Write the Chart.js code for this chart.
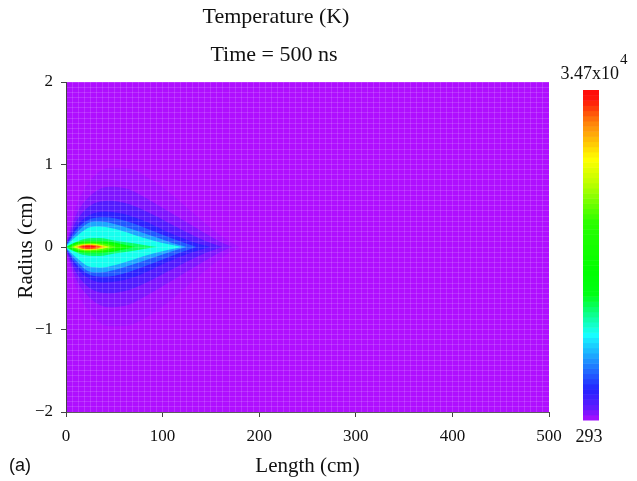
<!DOCTYPE html>
<html>
<head>
<meta charset="utf-8">
<script src="https://cdn.jsdelivr.net/npm/chart.js@4.4.1/dist/chart.umd.min.js"></script>
<style>
  html, body { margin: 0; padding: 0; background: #fff; }
  canvas { display: block; }
</style>
</head>
<body>
<canvas id="tempChart" width="637" height="481"></canvas>
<script>
// colour scale limits (K)
const tMin = 293;
const tMax = 34700;

// isotherms of the plume: temperature, and half-width (cm) along the length (cm).
// first entry is the ambient gas filling the whole tube
const isoTemps = [293, 550, 1100, 2000, 3200, 5000, 7000, 9500, 12000, 15000, 18500, 22000, 26000, 29500, 32000, 34000];
const isoLength = [
  [0, 500],
  [0, 10, 25, 45, 65, 85, 105, 125, 145, 165, 180],
  [0, 10, 25, 45, 65, 85, 105, 125, 145, 160, 172],
  [0, 10, 25, 45, 65, 85, 105, 125, 145, 162],
  [0, 10, 25, 40, 60, 80, 100, 120, 140, 150],
  [0, 10, 25, 40, 60, 80, 100, 120, 135],
  [0, 10, 25, 35, 50, 70, 90, 110, 125],
  [0, 10, 25, 35, 50, 70, 90, 105, 120],
  [0, 8, 20, 35, 50, 70, 85, 95],
  [1, 8, 20, 35, 50, 62, 72],
  [3, 10, 20, 35, 50, 62],
  [5, 12, 25, 40, 52],
  [7, 15, 25, 37, 46],
  [10, 17, 25, 34, 41],
  [12, 18, 26, 33, 37],
  [15, 21, 27, 32]
];
const isoHalfWidth = [
  [2, 2],
  [0.05, 0.48, 0.8, 0.96, 0.95, 0.84, 0.68, 0.48, 0.28, 0.1, 0],
  [0.04, 0.38, 0.62, 0.73, 0.7, 0.58, 0.44, 0.3, 0.16, 0.06, 0],
  [0.03, 0.3, 0.5, 0.56, 0.52, 0.42, 0.3, 0.18, 0.07, 0],
  [0.025, 0.24, 0.39, 0.43, 0.4, 0.32, 0.21, 0.11, 0.03, 0],
  [0.02, 0.2, 0.34, 0.36, 0.32, 0.24, 0.15, 0.06, 0],
  [0.015, 0.16, 0.3, 0.31, 0.28, 0.21, 0.13, 0.05, 0],
  [0.01, 0.12, 0.24, 0.25, 0.22, 0.15, 0.08, 0.035, 0],
  [0.005, 0.05, 0.1, 0.11, 0.08, 0.045, 0.015, 0],
  [0, 0.045, 0.075, 0.075, 0.055, 0.025, 0],
  [0, 0.04, 0.06, 0.058, 0.035, 0],
  [0, 0.035, 0.05, 0.038, 0],
  [0, 0.03, 0.04, 0.025, 0],
  [0, 0.025, 0.031, 0.017, 0],
  [0, 0.021, 0.024, 0.014, 0],
  [0, 0.014, 0.015, 0]
];

// axis ticks
const lengthTicks = [0, 100, 200, 300, 400, 500];
const radiusTicks = [-2, -1, 0, 1, 2];

const titleText = 'Temperature (K)';
const subtitleText = 'Time = 500 ns';
const SERIF = '"Liberation Serif", "DejaVu Serif", serif';

// rainbow colormap, purple (cold) -> red (hot): [scaled temperature, hue, lightness]
const colorStops = [[0, 280, 53], [0.04, 258, 55], [0.1, 238, 57], [0.25, 184, 55], [0.38, 125, 50],
  [0.6, 110, 50], [0.72, 75, 50], [0.8, 58, 50], [0.9, 30, 52], [0.97, 3, 52], [1, 0, 52]];
function tempColor(t) {
  const f = Math.min(1, Math.max(0, (t - tMin) / (tMax - tMin)));
  for (let i = 1; i < colorStops.length; i++) {
    const a = colorStops[i - 1], b = colorStops[i];
    if (f <= b[0]) {
      const u = (f - a[0]) / (b[0] - a[0]);
      const h = a[1] + (b[1] - a[1]) * u;
      const l = a[2] + (b[2] - a[2]) * u;
      return 'hsl(' + h.toFixed(1) + ', 100%, ' + l.toFixed(1) + '%)';
    }
  }
  return 'hsl(0, 100%, 52%)';
}

// each isotherm is an upper edge and a lower edge, the lower one filled up to the upper
const datasets = [];
isoTemps.forEach((t, k) => {
  const xs = isoLength[k];
  const rs = isoHalfWidth[k];
  const base = {
    borderWidth: 0,
    borderColor: 'transparent',
    pointRadius: 0,
    pointHoverRadius: 0,
    tension: 0.4,
    cubicInterpolationMode: 'monotone',
    order: -k
  };
  datasets.push(Object.assign({}, base, {
    label: t + ' K',
    data: xs.map((x, i) => ({ x: x, y: rs[i] })),
    fill: false
  }));
  datasets.push(Object.assign({}, base, {
    label: t + ' K',
    data: xs.map((x, i) => ({ x: x, y: -rs[i] })),
    fill: '-1',
    backgroundColor: tempColor(t)
  }));
});

function isTick(v, list) {
  return list.some(m => Math.abs(v - m) < 1e-6);
}

const meshColor = 'rgba(255,255,255,0.14)';

// titles, colour bar and panel letter
const decorations = {
  id: 'decorations',
  afterDraw(chart) {
    const ctx = chart.ctx;
    ctx.save();
    ctx.fillStyle = '#111';
    ctx.textAlign = 'center';
    ctx.textBaseline = 'middle';
    ctx.font = '22px ' + SERIF;
    ctx.fillText(titleText, 276, 17);
    ctx.fillText(subtitleText, 274, 55);

    // colour bar
    const bx = 583, bw = 16, top = 90, bottom = 420;
    const bands = 64;
    const h = (bottom - top) / bands;
    for (let i = 0; i < bands; i++) {
      const t = tMin + (i + 0.5) / bands * (tMax - tMin);
      ctx.fillStyle = tempColor(t);
      ctx.fillRect(bx, bottom - (i + 1) * h, bw, h + 0.5);
    }

    ctx.fillStyle = '#111';
    ctx.font = '18px ' + SERIF;
    const exp = Math.floor(Math.log10(tMax));
    const mant = (tMax / Math.pow(10, exp)).toFixed(2);
    ctx.textAlign = 'right';
    ctx.fillText(mant + 'x10', 619, 74);
    ctx.textAlign = 'left';
    ctx.font = '15px ' + SERIF;
    ctx.fillText(String(exp), 620, 60);
    ctx.textAlign = 'center';
    ctx.font = '18px ' + SERIF;
    ctx.fillText(String(tMin), 589, 437);

    ctx.textAlign = 'left';
    ctx.font = '18px "Liberation Sans", Arial, sans-serif';
    ctx.fillText('(a)', 9, 466);
    ctx.restore();
  }
};

new Chart(document.getElementById('tempChart'), {
  type: 'line',
  data: { datasets: datasets },
  plugins: [decorations],
  options: {
    responsive: false,
    animation: false,
    events: [],
    layout: { padding: { top: 82, right: 88, left: 0, bottom: 0 } },
    plugins: {
      legend: { display: false },
      tooltip: { enabled: false },
      filler: { propagate: false }
    },
    scales: {
      x: {
        type: 'linear',
        min: 0,
        max: 500,
        afterFit(scale) { scale.height = 69; },
        ticks: {
          stepSize: 6.25,
          autoSkip: false,
          maxRotation: 0,
          padding: 9,
          color: '#111',
          font: { family: SERIF, size: 17 },
          callback: v => isTick(v, lengthTicks) ? String(Math.round(v)) : ''
        },
        grid: {
          z: 1,
          color: meshColor,
          tickLength: 5,
          tickColor: c => (c.tick && isTick(c.tick.value, lengthTicks)) ? '#444' : 'transparent'
        },
        border: { display: true, color: '#444', width: 1, z: 1 },
        title: {
          display: true,
          text: 'Length (cm)',
          color: '#111',
          font: { family: SERIF, size: 21 },
          padding: { top: 0, bottom: 2 }
        }
      },
      y: {
        type: 'linear',
        min: -2,
        max: 2,
        afterFit(scale) { scale.width = 66; },
        ticks: {
          stepSize: 0.0625,
          autoSkip: false,
          padding: 8,
          color: '#111',
          font: { family: SERIF, size: 17 },
          callback: v => isTick(v, radiusTicks) ? String(Math.round(v)).replace('-', '\u2212') : ''
        },
        grid: {
          z: 1,
          color: meshColor,
          tickLength: 5,
          tickColor: c => (c.tick && isTick(c.tick.value, radiusTicks)) ? '#444' : 'transparent'
        },
        border: { display: true, color: '#444', width: 1, z: 1 },
        title: {
          display: true,
          text: 'Radius (cm)',
          color: '#111',
          font: { family: SERIF, size: 21 },
          padding: { top: 14, bottom: 0 }
        }
      }
    }
  }
});
</script>
</body>
</html>
